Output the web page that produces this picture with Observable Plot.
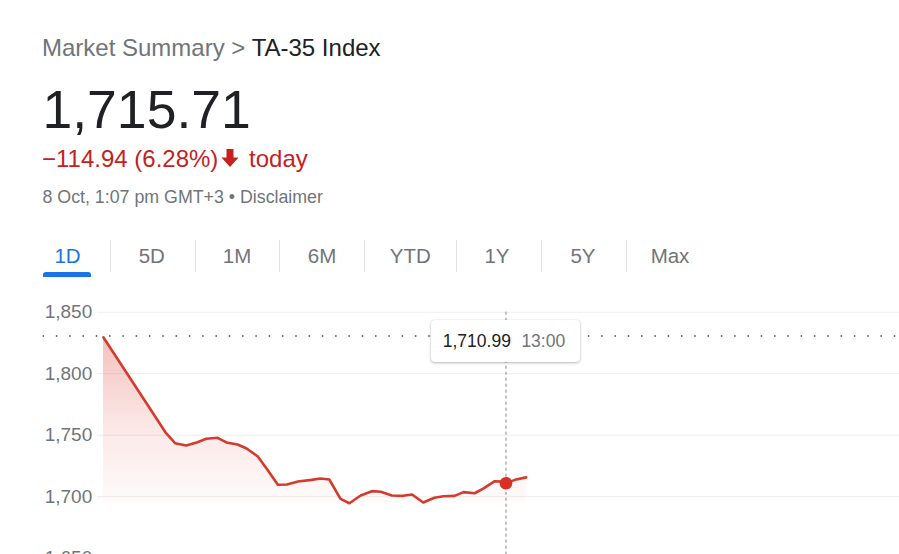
<!DOCTYPE html>
<html>
<head>
<meta charset="utf-8">
<script src="https://cdn.jsdelivr.net/npm/d3@7"></script>
<script src="https://cdn.jsdelivr.net/npm/@observablehq/plot@0.6"></script>
<style>
html, body { margin: 0; padding: 0; background: #fff; }
body { width: 899px; height: 554px; overflow: hidden; position: relative; font-family: "Liberation Sans", Arial, sans-serif; }
.abs { position: absolute; white-space: nowrap; line-height: 1; }
.tab { position: absolute; top: 246px; font-size: 20.5px; line-height: 1; color: #70757a; transform: translateX(-50%); white-space: nowrap; }
.sep { position: absolute; top: 240px; width: 1px; height: 32px; background: #e3e3e3; }
#chart { position: absolute; left: 0; top: 290px; }
#tip { position: absolute; top: 320px; width: 149px; height: 42px; background: #fff; border-radius: 4px;
       box-shadow: 0 1px 3px rgba(0,0,0,0.28), 0 0 1px rgba(0,0,0,0.15); box-sizing: border-box;
       padding: 12.5px 0 0 11.8px; font-size: 17.5px; line-height: 1; white-space: nowrap; display: flex; }
</style>
</head>
<body>
<div class="abs" style="left:42px;top:36.4px;font-size:24px;color:#70757a">Market Summary &gt; <span style="color:#202124">TA-35 Index</span></div>
<div class="abs" style="left:42.5px;top:83px;font-size:53.5px;color:#202124">1,715.71</div>
<div class="abs" style="left:42px;top:145.6px;font-size:24px;color:#c5221f">−114.94 (6.28%)<svg width="24" height="24" viewBox="0 0 24 24" style="vertical-align:-3px"><path fill="#c5221f" d="M8.5 3h7v8.5h5L12 21 3.5 11.5h5z"/></svg> today</div>
<div class="abs" style="left:42.5px;top:188.9px;font-size:17.8px;color:#70757a">8 Oct, 1:07 pm GMT+3 • Disclaimer</div>
<div id="tabs"></div>
<div id="chart"></div>
<div id="tip"><span style="color:#202124">1,710.99</span><span style="color:#70757a;margin-left:10.5px">13:00</span></div>

<script>
// ---- data ----
const times = ["10:00","10:28","10:32","10:37","10:42","10:46","10:51","10:55","11:00","11:04",
               "11:09","11:13","11:18","11:22","11:27","11:33","11:37","11:41","11:46","11:50",
               "11:55","12:00","12:04","12:09","12:14","12:18","12:23","12:28","12:32","12:37",
               "12:41","12:46","12:50","12:55","12:58","13:00","13:04","13:09"];
const values = [1829.5,1751.6,1743.5,1741.6,1744.3,1747.1,1747.9,1744.1,1742.4,1739.2,
                1732.7,1722.7,1709.7,1709.9,1712.4,1713.7,1714.8,1714.0,1698.3,1694.7,
                1701.0,1704.5,1704.0,1701.0,1700.7,1701.8,1695.3,1699.1,1700.4,1700.7,
                1703.7,1702.8,1706.7,1712.6,1712.4,1710.99,1713.7,1715.7];
const previousClose = 1830.65;
const hoverTime = "13:00";
const hoverValue = 1710.99;
const yTicks = [1650, 1700, 1750, 1800, 1850];
const sessionOpen = "10:00";
const sessionEnd = "15:56";
const tabs = ["1D","5D","1M","6M","YTD","1Y","5Y","Max"];

// ---- tabs (page chrome) ----
const tabCenters = [67.5, 151.8, 237, 322, 410.3, 497, 583, 670];
const sepXs = [110, 195, 279.3, 364.3, 456, 540.7, 625.7];
const tabsEl = document.getElementById("tabs");
tabs.forEach((t, i) => {
  const d = document.createElement("div");
  d.className = "tab";
  d.textContent = t;
  d.style.left = tabCenters[i] + "px";
  if (i === 0) d.style.color = "#1a73e8";
  tabsEl.appendChild(d);
});
sepXs.forEach(x => {
  const s = document.createElement("div");
  s.className = "sep";
  s.style.left = x + "px";
  tabsEl.appendChild(s);
});
const ul = document.createElement("div");
ul.style.cssText = "position:absolute;left:42.7px;top:271.7px;width:48.3px;height:5px;background:#1a73e8;border-radius:3px 3px 0 0;";
tabsEl.appendChild(ul);

// ---- chart ----
const parse = d3.timeParse("%H:%M");
const data = times.map((t, i) => ({time: parse(t), value: values[i]}));
const base = d3.min(values);
const hover = [{time: parse(hoverTime), value: hoverValue}];

const chart = Plot.plot({
  width: 899,
  height: 300,
  marginLeft: 97,
  marginRight: 0,
  marginTop: 0,
  marginBottom: 0,
  style: {fontFamily: "'Liberation Sans', Arial, sans-serif", fontSize: "19px", color: "#70757a", background: "transparent", overflow: "visible"},
  x: {type: "time", domain: [parse(sessionOpen), parse(sessionEnd)], range: [103, 899], axis: null},
  y: {domain: [1650, 1850], range: [267.7, 21.7], ticks: yTicks, tickFormat: d3.format(","), tickSize: 0, tickPadding: 5.3, label: null},
  marks: [
    Plot.ruleY(yTicks, {stroke: "#ededed", strokeWidth: 1}),
    Plot.areaY(data, {x: "time", y1: base, y2: "value", fill: "url(#fade)", curve: "linear"}),
    Plot.ruleY([previousClose], {stroke: "#5f6368", strokeWidth: 1.8, strokeDasharray: "0,13.3", strokeLinecap: "round", insetLeft: -53.7}),
    Plot.ruleX(hover, {x: "time", y1: 1850, y2: 1650, stroke: "#80868b", strokeWidth: 1, strokeDasharray: "3,3"}),
    Plot.lineY(data, {x: "time", y: "value", stroke: "#d43b2d", strokeWidth: 2.6, strokeLinejoin: "round", strokeLinecap: "round"}),
    Plot.dot(hover, {x: "time", y: "value", r: 6.3, fill: "#d93025", stroke: "none"})
  ]
});

const svg = chart.tagName.toLowerCase() === "svg" ? chart : chart.querySelector("svg");
const defs = d3.select(svg).insert("defs", ":first-child");
const grad = defs.append("linearGradient").attr("id", "fade").attr("x1", 0).attr("y1", 0).attr("x2", 0).attr("y2", 1);
grad.append("stop").attr("offset", "0%").attr("stop-color", "#d93025").attr("stop-opacity", 0.3);
grad.append("stop").attr("offset", "55%").attr("stop-color", "#d93025").attr("stop-opacity", 0.11);
grad.append("stop").attr("offset", "100%").attr("stop-color", "#d93025").attr("stop-opacity", 0.02);

document.getElementById("chart").appendChild(chart);

// tooltip placed with the chart's own x scale
const xs = chart.scale("x");
const cx = xs.apply(parse(hoverTime));
document.getElementById("tip").style.left = (cx - 74.5) + "px";
</script>
</body>
</html>
